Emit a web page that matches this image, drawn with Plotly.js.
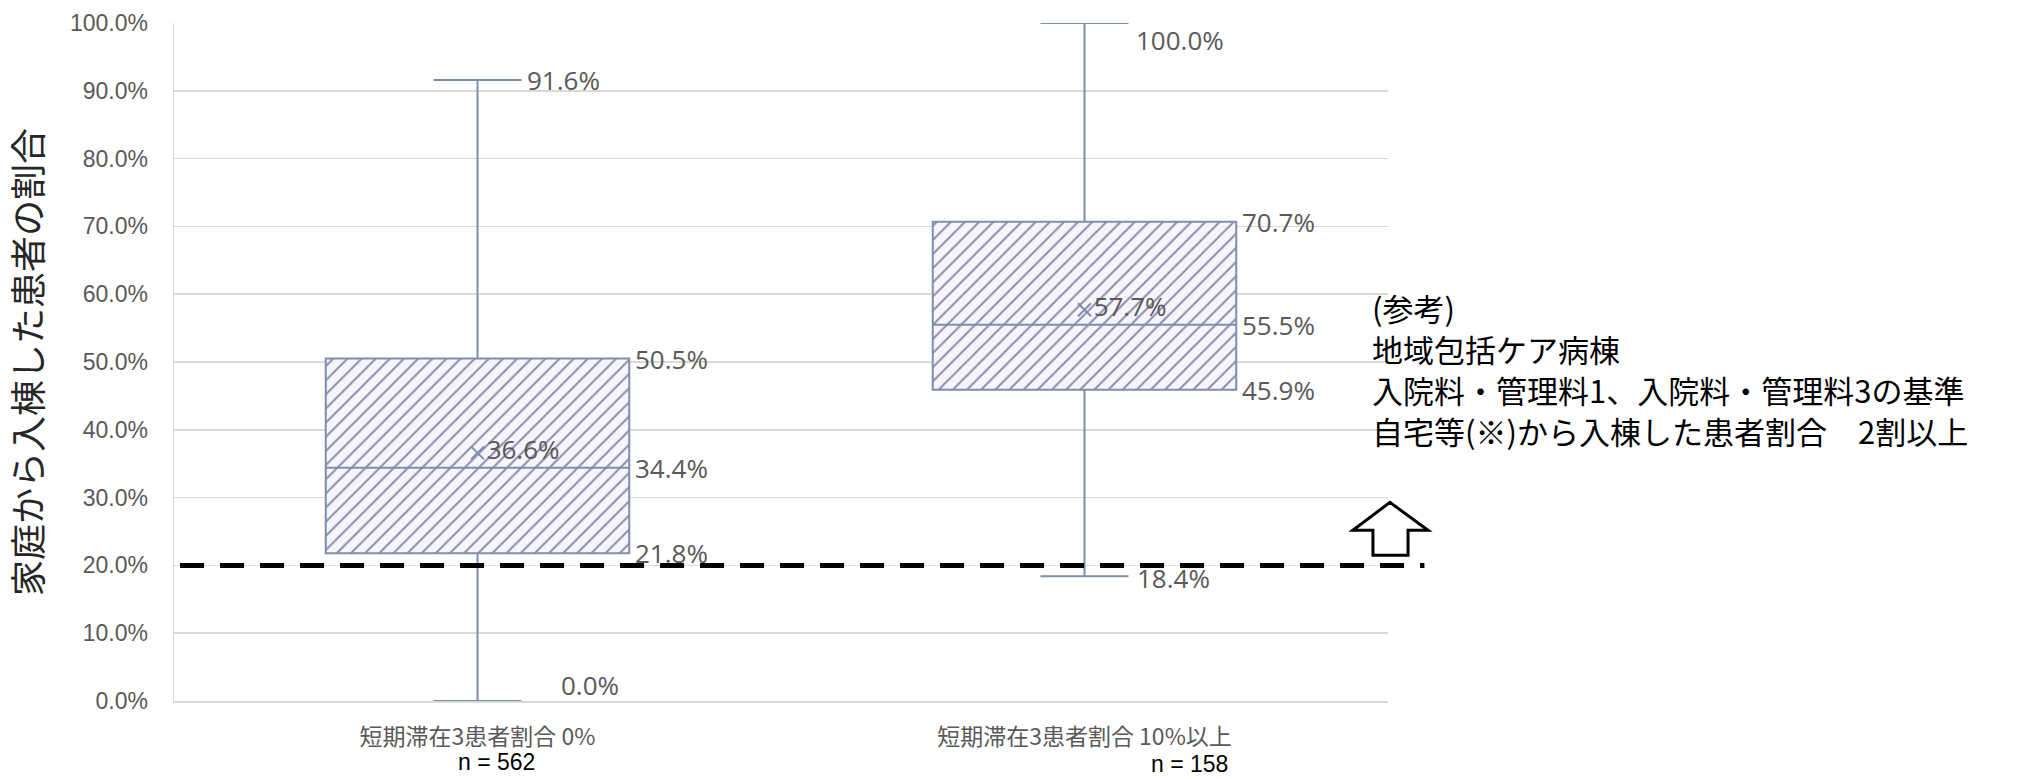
<!DOCTYPE html>
<html>
<head>
<meta charset="utf-8">
<script src="https://cdn.plot.ly/plotly-3.0.1.min.js"></script>
<style>html,body{margin:0;padding:0;background:#fff;}#chart{width:2020px;height:779px;}</style>
</head>
<body>
<div id="chart"></div>
<script>
// ---- data ----
const categories = ['短期滞在3患者割合 0%', '短期滞在3患者割合 10%以上'];
const sampleSizes = ['n = 562', 'n = 158'];
const minVals = [0.000, 0.184];
const q1Vals = [0.218, 0.459];
const medianVals = [0.344, 0.555];
const q3Vals = [0.505, 0.707];
const maxVals = [0.916, 1.000];
const meanVals = [0.366, 0.577];
const referenceLevel = 0.2;
const yTitle = '家庭から入棟した患者の割合';
const noteLines = ['(参考)', '地域包括ケア病棟', '入院料・管理料1、入院料・管理料3の基準', '自宅等(※)から入棟した患者割合　2割以上'];

// ---- styles ----
const labelFont = {family: 'Open Sans, sans-serif', size: 26, color: '#595959'};
const boxLine = '#7f8eab';
const pct = v => (v * 100).toFixed(1) + '%';

const hatch = {
  type: 'bar', x: categories,
  y: q3Vals.map((v, i) => v - q1Vals[i]), base: q1Vals,
  width: 0.5, hoverinfo: 'skip',
  marker: {color: '#f6f5fb', line: {width: 0},
    pattern: {shape: '/', fgcolor: '#8f8aab', bgcolor: '#f6f5fb', size: 10, solidity: 0.2}}
};
const box = {
  type: 'box', x: categories,
  q1: q1Vals, median: medianVals, q3: q3Vals,
  lowerfence: minVals, upperfence: maxVals,
  width: 0.5, whiskerwidth: 0.29, boxpoints: false,
  fillcolor: 'rgba(0,0,0,0)', line: {color: boxLine, width: 2}
};
const means = {
  type: 'scatter', x: categories, y: meanVals, mode: 'markers+text',
  text: meanVals.map(pct), textposition: 'middle right', textfont: labelFont,
  marker: {symbol: 'x-thin', size: 13, line: {color: boxLine, width: 2}},
  cliponaxis: false, hoverinfo: 'skip'
};

// annotation offsets (px) for the value labels
const boxEdgeShift = 155;
const annotations = [];
categories.forEach((c, i) => {
  [q1Vals[i], medianVals[i], q3Vals[i]].forEach(v => {
    annotations.push({x: c, y: v, xref: 'x', yref: 'y', text: pct(v), showarrow: false,
      xanchor: 'left', yanchor: 'middle', xshift: boxEdgeShift, font: labelFont});
  });
});
const maxShift = [[47, 0], [49, -17]];
const minShift = [[81, 16], [50, -2]];
categories.forEach((c, i) => {
  annotations.push({x: c, y: maxVals[i], xref: 'x', yref: 'y', text: pct(maxVals[i]), showarrow: false,
    xanchor: 'left', yanchor: 'middle', xshift: maxShift[i][0], yshift: maxShift[i][1], font: labelFont});
  annotations.push({x: c, y: minVals[i], xref: 'x', yref: 'y', text: pct(minVals[i]), showarrow: false,
    xanchor: 'left', yanchor: 'middle', xshift: minShift[i][0], yshift: minShift[i][1], font: labelFont});
});
const nShift = [[19, -61], [105, -63]];
categories.forEach((c, i) => {
  annotations.push({x: c, y: 0, xref: 'x', yref: 'paper', text: sampleSizes[i], showarrow: false,
    xanchor: 'center', yanchor: 'middle', xshift: nShift[i][0], yshift: nShift[i][1],
    font: {family: 'Liberation Sans, Arial, sans-serif', size: 23, color: '#000'}});
});
// reference note, one annotation per line (41 px apart)
noteLines.forEach((line, k) => {
  annotations.push({x: 0.985, y: 0.49, xref: 'paper', yref: 'paper', text: line,
    showarrow: false, xanchor: 'left', yanchor: 'middle', align: 'left', yshift: 61.5 - 41 * k,
    font: {family: 'Noto Sans CJK JP, sans-serif', size: 31, color: '#000'}});
});

const layout = {
  width: 2020, height: 779,
  margin: {l: 174, r: 632, t: 23, b: 78},
  paper_bgcolor: '#fff', plot_bgcolor: '#fff',
  showlegend: false,
  xaxis: {type: 'category', range: [-0.5, 1.5], showgrid: false, showline: true, linecolor: '#d9d9d9', linewidth: 1.5,
    ticks: '', ticklabelstandoff: 15,
    tickfont: {family: 'Noto Sans CJK JP, sans-serif', size: 23, color: '#595959'}},
  yaxis: {range: [0, 1], dtick: 0.1, tickformat: '.1%', gridcolor: '#d9d9d9', gridwidth: 1.5,
    showline: true, linecolor: '#d9d9d9', linewidth: 1.5, zeroline: false, ticks: '', ticklabelstandoff: 20,
    tickfont: {family: 'Liberation Sans, Arial, sans-serif', size: 23, color: '#595959'},
    title: {text: yTitle, standoff: 22, font: {family: 'Noto Sans CJK JP, sans-serif', size: 36, color: '#262626'}}},
  annotations: annotations,
  shapes: [
    {type: 'line', xref: 'paper', yref: 'y', x0: 0.005, x1: 1.03, y0: referenceLevel, y1: referenceLevel,
      line: {color: '#000', width: 5, dash: '24px,16px'}},
    {type: 'path', xref: 'paper', yref: 'paper',
      path: 'M 0.9876 0.215 L 1.0165 0.215 L 1.0165 0.2517 L 1.033 0.2517 L 1.0016 0.293 L 0.971 0.2517 L 0.9876 0.2517 Z',
      line: {color: '#000', width: 3}, fillcolor: '#fff'}
  ]
};

Plotly.newPlot('chart', [hatch, box, means], layout, {displayModeBar: false, staticPlot: true});
</script>
</body>
</html>
